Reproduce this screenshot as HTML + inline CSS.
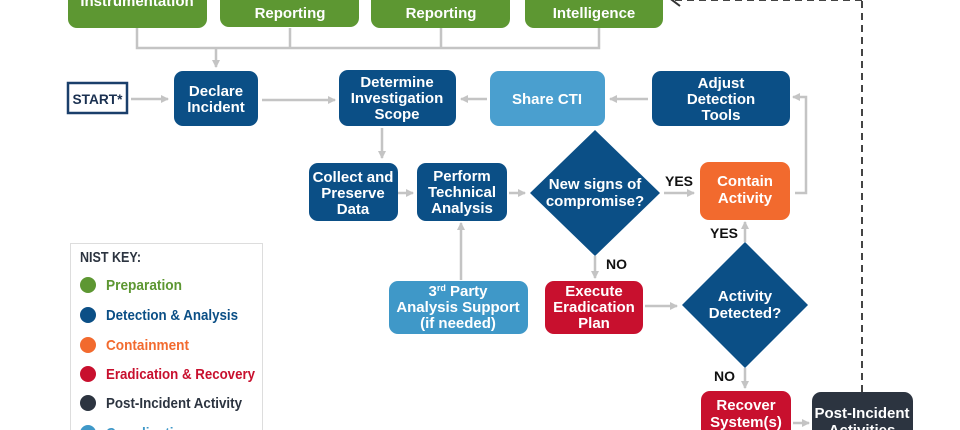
<!DOCTYPE html>
<html><head><meta charset="utf-8">
<style>
html,body{margin:0;padding:0;background:#fff;overflow:hidden;width:960px;height:430px;}
svg{display:block;}
text{font-family:"Liberation Sans Narrow","Liberation Sans",sans-serif;font-weight:bold;}
.w{fill:#fff;font-size:15px;text-anchor:middle;}
.l{font-size:15px;}
</style></head>
<body>
<svg width="960" height="430" viewBox="0 0 960 430" xmlns="http://www.w3.org/2000/svg">
<defs>
<marker id="a" markerWidth="8" markerHeight="8" refX="7" refY="4" orient="auto" markerUnits="userSpaceOnUse">
<path d="M0,0 L8,4 L0,8 z" fill="#c4c4c4"/></marker>
</defs>
<g stroke="#c4c4c4" stroke-width="2.5" fill="none">
<path d="M137,28 V48 H599 V28"/>
<path d="M290,28 V48"/><path d="M441,28 V48"/>
<path d="M216,48 V67" marker-end="url(#a)"/>
<path d="M131,99 H168" marker-end="url(#a)"/>
<path d="M262,100 H335" marker-end="url(#a)"/>
<path d="M487,99 H461" marker-end="url(#a)"/>
<path d="M648,99 H610" marker-end="url(#a)"/>
<path d="M795,193 H806 V97 H793" marker-end="url(#a)"/>
<path d="M382,128 V158" marker-end="url(#a)"/>
<path d="M398,193 H413" marker-end="url(#a)"/>
<path d="M509,193 H525" marker-end="url(#a)"/>
<path d="M664,193 H694" marker-end="url(#a)"/>
<path d="M461,280 V223" marker-end="url(#a)"/>
<path d="M595,256 V278" marker-end="url(#a)"/>
<path d="M645,306 H677" marker-end="url(#a)"/>
<path d="M745,242 V222" marker-end="url(#a)"/>
<path d="M745,368 V388" marker-end="url(#a)"/>
<path d="M793,423 H809" marker-end="url(#a)"/>
</g>
<path d="M862,392 V0" stroke="#444" stroke-width="2" stroke-dasharray="7,5" fill="none"/>
<path d="M862,0 H674" stroke="#444" stroke-width="2" stroke-dasharray="7,5" fill="none"/>
<path d="M680,-6 L672,0 L680,6" stroke="#333" stroke-width="2" fill="none"/>

<g fill="#5d9732">
<rect x="68" y="-30" width="139" height="58" rx="9"/>
<rect x="220" y="-30" width="139" height="57" rx="9"/>
<rect x="371" y="-30" width="139" height="58" rx="9"/>
<rect x="525" y="-30" width="138" height="58" rx="9"/>
</g>
<text class="w" x="137" y="6">Instrumentation</text>
<text class="w" x="290" y="-5">Regulatory</text><text class="w" x="290" y="18">Reporting</text>
<text class="w" x="441" y="-5">Internal/External</text><text class="w" x="441" y="18">Reporting</text>
<text class="w" x="594" y="-5">Cyber Threat</text><text class="w" x="594" y="18">Intelligence</text>

<rect x="68" y="83" width="59" height="30" fill="#fff" stroke="#1a3f6b" stroke-width="2.5"/>
<text x="97.5" y="104" font-size="14" text-anchor="middle" fill="#1a3050" textLength="50" lengthAdjust="spacingAndGlyphs">START*</text>

<g fill="#0b4f86">
<rect x="174" y="71" width="84" height="55" rx="9"/>
<rect x="339" y="70" width="117" height="56" rx="9"/>
<rect x="652" y="71" width="138" height="55" rx="9"/>
<rect x="309" y="163" width="89" height="58" rx="9"/>
<rect x="417" y="163" width="90" height="58" rx="9"/>
<path d="M595,130 L660,193 L595,256 L530,193 z"/>
<path d="M745,242 L808,305 L745,368 L682,305 z"/>
</g>
<rect x="490" y="71" width="115" height="55" rx="9" fill="#4a9fcf"/>
<rect x="389" y="281" width="139" height="53" rx="9" fill="#3f98c8"/>
<rect x="700" y="162" width="90" height="58" rx="9" fill="#f26a2e"/>
<rect x="545" y="281" width="98" height="53" rx="9" fill="#c8102e"/>
<rect x="701" y="391" width="90" height="60" rx="9" fill="#c8102e"/>
<rect x="812" y="392" width="101" height="60" rx="9" fill="#2c3440"/>

<text class="w" x="216" y="96">Declare</text><text class="w" x="216" y="112">Incident</text>
<text class="w" x="397" y="87">Determine</text><text class="w" x="397" y="103">Investigation</text><text class="w" x="397" y="119">Scope</text>
<text class="w" x="547" y="104">Share CTI</text>
<text class="w" x="721" y="88">Adjust</text><text class="w" x="721" y="104">Detection</text><text class="w" x="721" y="120">Tools</text>
<text class="w" x="353" y="182">Collect and</text><text class="w" x="353" y="198">Preserve</text><text class="w" x="353" y="214">Data</text>
<text class="w" x="462" y="181">Perform</text><text class="w" x="462" y="197">Technical</text><text class="w" x="462" y="213">Analysis</text>
<text class="w" x="595" y="189">New signs of</text><text class="w" x="595" y="206">compromise?</text>
<text class="w" x="745" y="186">Contain</text><text class="w" x="745" y="203">Activity</text>
<text class="w" x="458" y="296">3<tspan font-size="9" dy="-5">rd</tspan><tspan dy="5"> Party</tspan></text>
<text class="w" x="458" y="312">Analysis Support</text><text class="w" x="458" y="328">(if needed)</text>
<text class="w" x="594" y="296">Execute</text><text class="w" x="594" y="312">Eradication</text><text class="w" x="594" y="328">Plan</text>
<text class="w" x="745" y="301">Activity</text><text class="w" x="745" y="318">Detected?</text>
<text class="w" x="746" y="410">Recover</text><text class="w" x="746" y="427">System(s)</text>
<text class="w" x="862" y="418">Post-Incident</text><text class="w" x="862" y="435">Activities</text>

<g font-size="14" fill="#111">
<text x="665" y="186">YES</text>
<text x="710" y="238">YES</text>
<text x="606" y="269">NO</text>
<text x="714" y="381">NO</text>
</g>

<rect x="70.5" y="243.5" width="192" height="200" fill="#fff" stroke="#ddd" stroke-width="1"/>
<text x="80" y="262" class="l" fill="#2c3440" textLength="61" lengthAdjust="spacingAndGlyphs">NIST KEY:</text>
<circle cx="88" cy="285" r="8" fill="#5d9732"/><text x="106" y="290" class="l" fill="#5d9732" textLength="76" lengthAdjust="spacingAndGlyphs">Preparation</text>
<circle cx="88" cy="315" r="8" fill="#0b4f86"/><text x="106" y="320" class="l" fill="#0b4f86" textLength="132" lengthAdjust="spacingAndGlyphs">Detection &amp; Analysis</text>
<circle cx="88" cy="345" r="8" fill="#f26a2e"/><text x="106" y="350" class="l" fill="#f26a2e" textLength="83" lengthAdjust="spacingAndGlyphs">Containment</text>
<circle cx="88" cy="374" r="8" fill="#c8102e"/><text x="106" y="379" class="l" fill="#c8102e" textLength="149" lengthAdjust="spacingAndGlyphs">Eradication &amp; Recovery</text>
<circle cx="88" cy="403" r="8" fill="#2c3440"/><text x="106" y="408" class="l" fill="#2c3440" textLength="136" lengthAdjust="spacingAndGlyphs">Post-Incident Activity</text>
<circle cx="88" cy="433" r="8" fill="#3f98c8"/><text x="106" y="438" class="l" fill="#3f98c8" textLength="84" lengthAdjust="spacingAndGlyphs">Coordination</text>
</svg>
</body></html>
